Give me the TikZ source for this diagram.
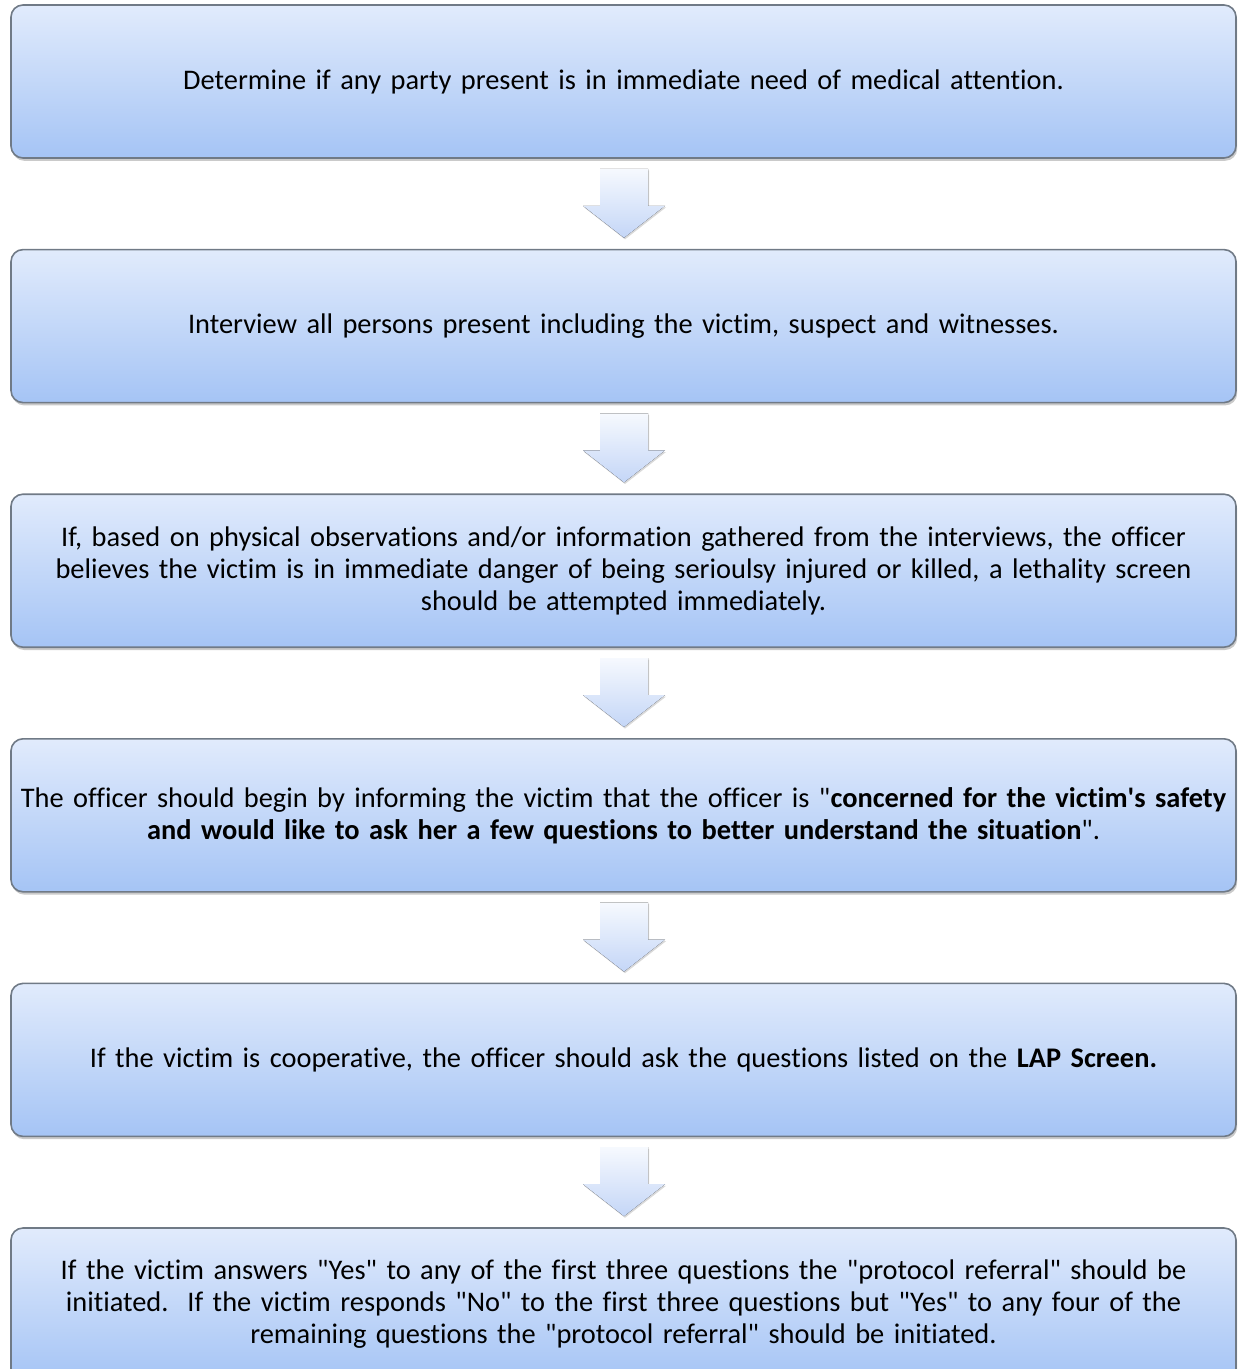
\documentclass[tikz,border=0pt]{standalone}
\usepackage{fontspec}
\setmainfont{Carlito}[Ligatures={TeXOff,CommonOff}]
\usetikzlibrary{positioning,calc,shadows}
\definecolor{boxtop}{RGB}{225,235,252}
\definecolor{boxbot}{RGB}{165,196,245}
\definecolor{boxline}{RGB}{112,122,134}
\definecolor{arrtop}{RGB}{246,249,254}
\definecolor{arrbot}{RGB}{196,214,247}
\tikzset{
  stepbox/.style={draw=boxline,line width=0.8pt,rounded corners=6pt,
    top color=boxtop,bottom color=boxbot,
    minimum width=612.5pt,minimum height=76.5pt,inner sep=0pt,
    align=center,text width=612pt,
    font=\fontsize{14.2}{16}\selectfont,
    drop shadow={shadow xshift=0.6pt,shadow yshift=-1.4pt,opacity=0.35,fill=black!60}},
  blockarrow/.style={top color=arrtop,bottom color=arrbot,draw=none,
    drop shadow={shadow xshift=0.5pt,shadow yshift=-0.8pt,opacity=0.15,fill=black}}
}
\begin{document}
\begin{tikzpicture}[x=0.5pt,y=-0.5pt,line join=round]
	\useasboundingbox (0,0) rectangle (1237,1369);
	\clip (0,0) rectangle (1237,1369);
	\node[stepbox] (b1) at (623.5,81.5) {Determine if any party present is in immediate need of medical attention.};
	\node[stepbox,below=45pt of b1] (b2) {Interview all persons present including the victim, suspect and witnesses.};
	\node[stepbox,below=45pt of b2] (b3) {If, based on physical observations and/or information gathered from the interviews, the officer\\believes the victim is in immediate danger of being serioulsy injured or killed, a lethality screen\\should be attempted immediately.};
	\node[stepbox,below=45pt of b3] (b4) {The officer should begin by informing the victim that the officer is "\textbf{concerned for the victim's safety}\\\textbf{and would like to ask her a few questions to better understand the situation}".};
	\node[stepbox,below=45pt of b4] (b5) {If the victim is cooperative, the officer should ask the questions listed on the \textbf{LAP Screen.}};
	\node[stepbox,below=45pt of b5] (b6) {If the victim answers "Yes" to any of the first three questions the "protocol referral" should be\\initiated.\ \ If the victim responds "No" to the first three questions but "Yes" to any four of the\\remaining questions the "protocol referral" should be initiated.};
	% block arrows between the steps
	\foreach \a/\b in {b1/b2,b2/b3,b3/b4,b4/b5,b5/b6}{
		\coordinate (m) at ($(\a.south)!.5!(\b.north)+(0.5,0)$);
		\fill[blockarrow] ([shift={(-24,-35)}]m) -- ([shift={(24,-35)}]m) -- ([shift={(24,2)}]m)
			-- ([shift={(41,2)}]m) -- ([shift={(0,34)}]m) -- ([shift={(-41,2)}]m)
			-- ([shift={(-24,2)}]m) -- cycle;
	}
\end{tikzpicture}
\end{document}
